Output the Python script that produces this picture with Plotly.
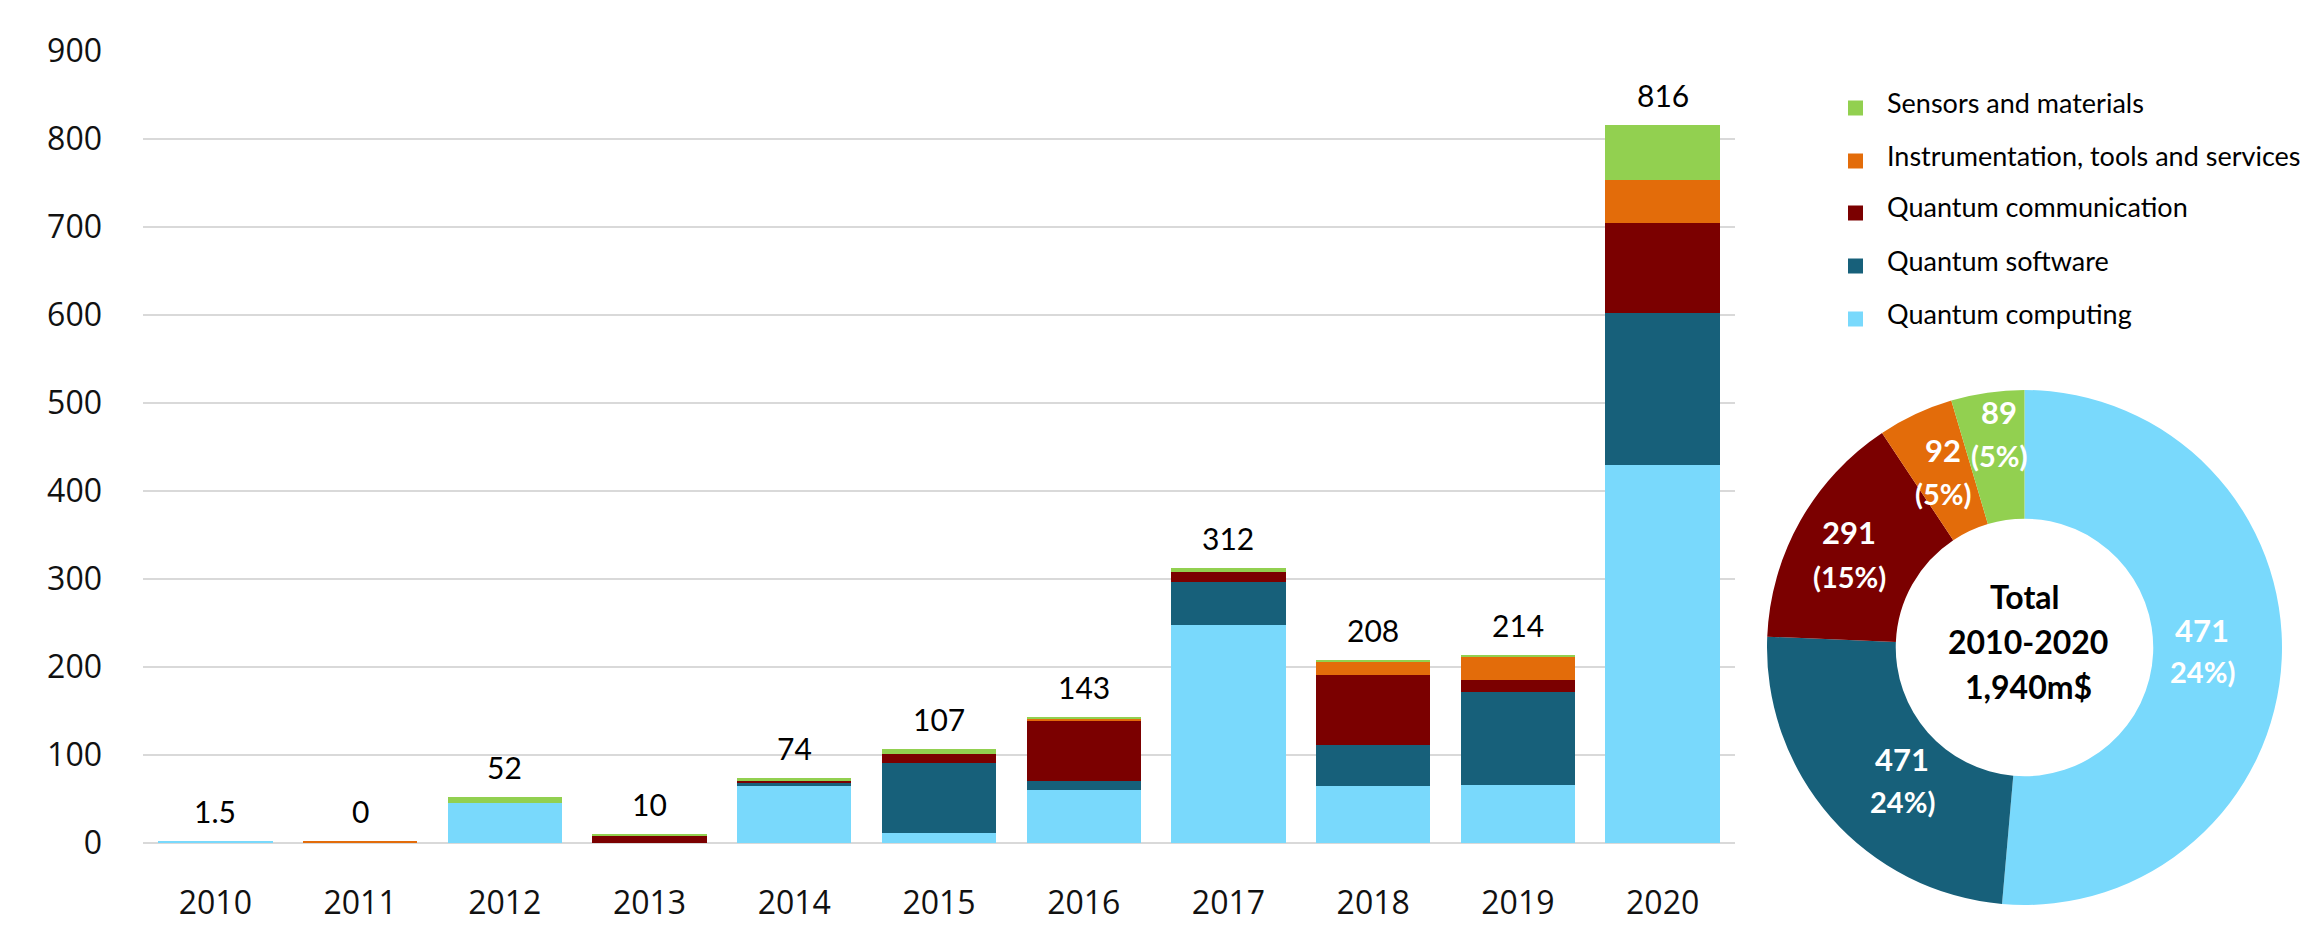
import plotly.graph_objects as go

years = ["2010", "2011", "2012", "2013", "2014", "2015", "2016", "2017", "2018", "2019", "2020"]
computing = [2.5, 0, 45, 0, 65, 11, 60, 248, 65, 66, 429]
software = [0, 0, 0, 0, 3, 80, 11, 49, 46, 106, 173]
communication = [0, 0, 0, 8, 3, 10, 68, 11, 80, 13, 102]
instrumentation = [0, 2.5, 0, 0, 0, 0, 2, 0, 15, 26, 49]
sensors = [0, 0, 7, 2, 3, 6, 2, 4, 2, 3, 63]
total_labels = ["1.5", "0", "52", "10", "74", "107", "143", "312", "208", "214", "816"]

series_names = ["Quantum computing", "Quantum software", "Quantum communication",
                "Instrumentation, tools and services", "Sensors and materials"]
pie_values = [997, 471, 291, 92, 89]
pie_value_text = ["471", "471", "291", "92", "89"]
pie_pct_text = ["24%)", "24%)", "(15%)", "(5%)", "(5%)"]
center_text = ["Total", "2010-2020", "1,940m$"]

colors = ["#79D9FC", "#17607A", "#7B0000", "#E36C0A", "#92D050"]
W, H = 2324, 950
OFF = 8  # page body margin offset


def px(x):
    return (x - OFF) / W


def py(y):
    return 1 - (y - OFF) / H


fig = go.Figure()
series = [computing, software, communication, instrumentation, sensors]
for i, (name, vals) in enumerate(zip(series_names, series)):
    fig.add_trace(go.Bar(
        x=years, y=vals, name=name, marker=dict(color=colors[i], line=dict(width=0)),
        showlegend=False, hoverinfo="skip"))

totals = [sum(v) for v in zip(*series)]
for i, (tot, lab) in enumerate(zip(totals, total_labels)):
    fig.add_annotation(x=i, y=tot, xref="x", yref="y", text=lab, showarrow=False,
                       xanchor="center", yanchor="middle", yshift=30,
                       font=dict(family="Lato", size=30, color="#000000"))

fig.add_trace(go.Pie(
    values=pie_values, labels=series_names, sort=False, direction="clockwise", rotation=0,
    hole=0.5, marker=dict(colors=colors, line=dict(width=0)), textinfo="none",
    showlegend=False, hoverinfo="skip",
    domain=dict(x=[px(1766), px(2283)], y=[py(905), py(390)])))

# slice labels (value line, percent line)
value_pos = [(2202, 630), (1902, 759), (1849, 532), (1943, 450), (1999, 412)]
pct_pos = [(2202, 671), (1902, 801), (1849, 576), (1943, 493), (1999, 455)]
for (vx, vy), (qx, qy), v, p in zip(value_pos, pct_pos, pie_value_text, pie_pct_text):
    fig.add_annotation(x=px(vx), y=py(vy), xref="paper", yref="paper", showarrow=False,
                       text=v, xanchor="center", yanchor="middle",
                       font=dict(family="Lato", size=31, color="white", weight="bold"))
    fig.add_annotation(x=px(qx), y=py(qy), xref="paper", yref="paper", showarrow=False,
                       text=p, xanchor="center", yanchor="middle",
                       font=dict(family="Lato", size=29, color="white", weight="bold"))

center_pos = [(2025, 596), (2028, 641), (2028, 686)]
for (cx, cy), t in zip(center_pos, center_text):
    fig.add_annotation(x=px(cx), y=py(cy), xref="paper", yref="paper", showarrow=False,
                       text=t, xanchor="center", yanchor="middle",
                       font=dict(family="Lato", size=32, color="black", weight="bold"))

# legend (top to bottom: sensors ... computing)
legend_rows = [102, 155, 207, 260, 313]
for row_y, idx in zip(legend_rows, [4, 3, 2, 1, 0]):
    fig.add_shape(type="rect", xref="paper", yref="paper",
                  x0=px(1848), x1=px(1863), y0=py(row_y + 13.5), y1=py(row_y - 1.5),
                  fillcolor=colors[idx], line=dict(width=0))
    fig.add_annotation(x=px(1885), y=py(row_y), xref="paper", yref="paper", showarrow=False,
                       text=series_names[idx], xanchor="left", yanchor="middle",
                       font=dict(family="Lato", size=27, color="#000000"))

fig.update_layout(
    width=W, height=H, barmode="stack", bargap=0.21,
    paper_bgcolor="white", plot_bgcolor="white",
    margin=dict(l=0, r=0, t=0, b=0, pad=0, autoexpand=False),
    xaxis=dict(type="category", domain=[px(143), px(1735)], range=[-0.5, 10.5], showgrid=False,
               showline=False, ticks="", ticklabelstandoff=38, automargin=False,
               tickfont=dict(family="Open Sans", size=32, color="#111111")),
    yaxis=dict(domain=[py(843), py(51)], range=[0, 900], dtick=100,
               showgrid=True, gridcolor="#D9D9D9", gridwidth=2,
               zeroline=True, zerolinecolor="#D9D9D9", zerolinewidth=2,
               showline=False, ticks="", ticklabelstandoff=40, automargin=False,
               tickfont=dict(family="Open Sans", size=32, color="#111111")),
    showlegend=False,
)

fig.write_html("out.html")
